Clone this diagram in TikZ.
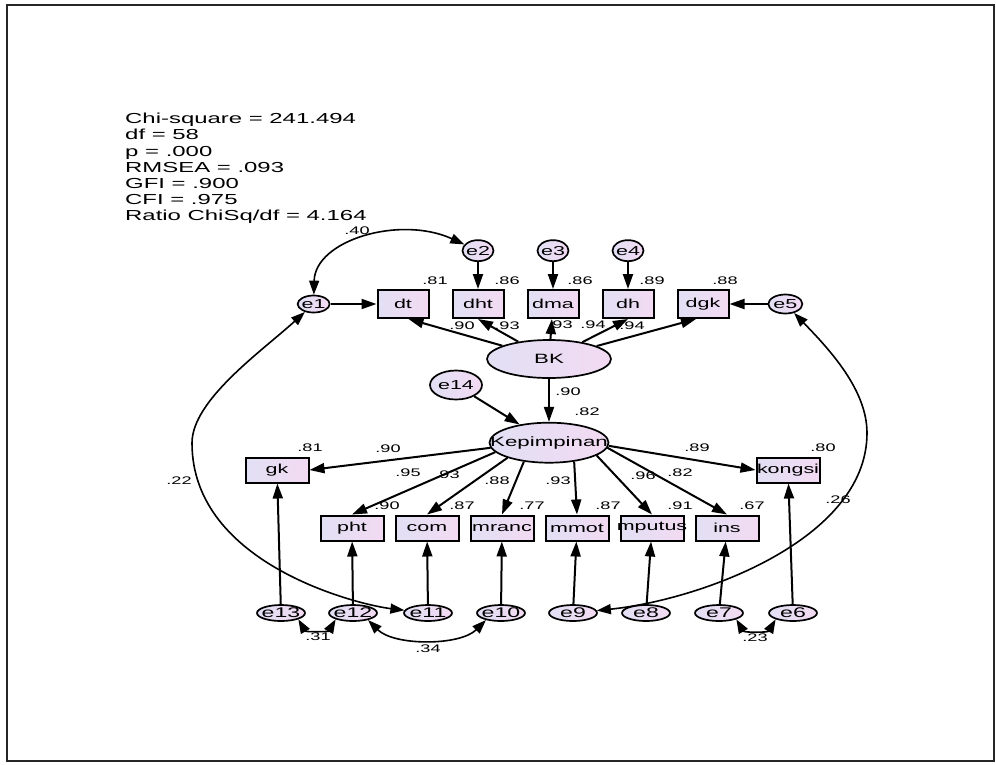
\documentclass[tikz,border=0pt]{standalone}
\usepackage{fontspec}
\setmainfont{Liberation Sans}[FakeStretch=1.65]
\usepackage{xcolor}
\usepackage{tikz}
\usetikzlibrary{
    shapes,
    arrows.meta,
    positioning
}
\definecolor{lavleft}{RGB}{226,224,244}
\definecolor{lavright}{RGB}{242,218,242}
\newcommand{\tightname}[1]{\makebox[0pt]{#1}}
\tikzset{obs/.style={
    draw,
    line width=2pt,
    left color=lavleft,
    right color=lavright,
    minimum height=25pt,
    minimum width=63pt,
    inner sep=0pt,
    font=\fontsize{13}{15}\selectfont,
}}
\tikzset{topobs/.style={
    obs,
    minimum height=28pt,
    minimum width=51pt,
}}
\tikzset{latent/.style={
    ellipse,
    draw,
    line width=1.7pt,
    left color=lavleft,
    right color=lavright,
    inner sep=0pt,
    font=\fontsize{13.5}{15}\selectfont,
}}
\tikzset{err/.style={
    latent,
    font=\fontsize{13}{15}\selectfont,
}}
\tikzset{berr/.style={
    err,
    minimum width=48pt,
    minimum height=16pt,
    font=\fontsize{14}{16}\selectfont,
}}
\tikzset{coef/.style={
    inner sep=0pt,
    font=\fontsize{11}{12}\selectfont,
}}
\tikzset{stats/.style={
    inner sep=0pt,
    align=left,
    font=\fontsize{14.5}{16.2}\selectfont,
}}
\tikzset{path/.style={
    ->,>={Triangle[length=15pt,width=10pt]},
    line width=2pt,
}}
\tikzset{cov/.style={
    <->,>={Triangle[length=14pt,width=10pt]},
    line width=1.6pt,
}}
\tikzset{frame/.style={
    draw=black!85,
    line width=2pt,
}}

\begin{document}
\begin{tikzpicture}[x=1pt, y=-1pt]
    \useasboundingbox (0,0) rectangle (996,764);
    \draw[frame] (7,5) rectangle (994,761);

    % fit indices
    \node[stats, anchor=north west] (fit) at (125,113) {Chi-square = 241.494\\df = 58\\p = .000\\RMSEA = .093\\GFI = .900\\CFI = .975\\Ratio ChiSq/df = 4.164};

    % latent variables
    \node[latent, minimum width=124pt, minimum height=38pt] (BK) at (549,359) {\tightname{BK}};
    \node[latent, minimum width=119pt, minimum height=40pt, below=43pt of BK] (Kep) {\tightname{Kepimpinan}};
    \node[err, minimum width=52pt, minimum height=29pt] (e14) at (456,385) {\tightname{e14}};

    % BK indicators
    \node[topobs] (dt) at (403,304) {dt};
    \node[topobs, right=22pt of dt] (dht) {dht};
    \node[topobs, right=22pt of dht] (dma) {dma};
    \node[topobs, right=22pt of dma] (dh) {dh};
    \node[topobs, right=22pt of dh] (dgk) {dgk};

    \node[err, minimum width=32pt, minimum height=17pt, left=46pt of dt] (e1) {\tightname{e1}};
    \node[err, minimum width=31pt, minimum height=21pt, above=27pt of dht] (e2) {\tightname{e2}};
    \node[err, minimum width=31pt, minimum height=21pt, above=27pt of dma] (e3) {\tightname{e3}};
    \node[err, minimum width=31pt, minimum height=21pt, above=27pt of dh] (e4) {\tightname{e4}};
    \node[err, minimum width=34pt, minimum height=19pt, right=38pt of dgk] (e5) {\tightname{e5}};

    % Kepimpinan indicators
    \node[obs] (gk) at (277,470) {gk};
    \node[obs] (kongsi) at (788,470) {\tightname{kongsi}};
    \node[obs] (pht) at (352,528) {pht};
    \node[obs, right=10pt of pht] (com) {com};
    \node[obs, right=10pt of com] (mranc) {\tightname{mranc}};
    \node[obs, right=10pt of mranc] (mmot) {mmot};
    \node[obs, right=10pt of mmot] (mputus) {\tightname{mputus}};
    \node[obs, right=10pt of mputus] (ins) {ins};

    \node[berr] (e13) at (281,613) {\tightname{e13}};
    \node[berr] (e12) at (353,613) {\tightname{e12}};
    \node[berr] (e11) at (428,613) {\tightname{e11}};
    \node[berr] (e10) at (501,613) {\tightname{e10}};
    \node[berr] (e9) at (573,613) {\tightname{e9}};
    \node[berr] (e8) at (646,613) {\tightname{e8}};
    \node[berr] (e7) at (719,613) {\tightname{e7}};
    \node[berr] (e6) at (793,613) {\tightname{e6}};

    % regression paths
    \draw[path] (e1) -- (dt);
    \draw[path] (e2) -- (dht);
    \draw[path] (e3) -- (dma);
    \draw[path] (e4) -- (dh);
    \draw[path] (e5) -- (dgk);
    \draw[path] (BK) -- (dt.-70);
    \draw[path] (BK) -- (dht.south);
    \draw[path] (BK) -- (dma);
    \draw[path] (BK) -- (dh.south);
    \draw[path] (BK) -- (dgk.-115);
    \draw[path] (BK) -- (Kep);
    \draw[path] (e14) -- (Kep);
    \draw[path] (Kep.-175) -- (gk.east);
    \draw[path] (Kep.-170) -- (pht.north);
    \draw[path] (Kep.-160) -- (com.north);
    \draw[path] (Kep.-143) -- (mranc.north);
    \draw[path] (Kep.-37) -- (mmot.north);
    \draw[path] (Kep.-15) -- (mputus.north);
    \draw[path] (Kep.-5) -- (ins.north);
    \draw[path] (Kep.-3) -- (kongsi.west);
    \draw[path] (e13) -- (gk);
    \draw[path] (e12) -- (pht);
    \draw[path] (e11) -- (com);
    \draw[path] (e10) -- (mranc);
    \draw[path] (e9) -- (mmot);
    \draw[path] (e8) -- (mputus);
    \draw[path] (e7) -- (ins);
    \draw[path] (e6) -- (kongsi);

    % covariances
    \coordinate (leftbend) at (192,443);
    \coordinate (rightbend) at (867,433);
    \draw[cov] (e1) .. controls (315,240) and (400,215) .. (e2);
    \draw[cov] (e1) .. controls (262,351) and (192,400) .. (leftbend) .. controls (192,565) and (360,605) .. (e11);
    \draw[cov] (e5) .. controls (830,350) and (867,390) .. (rightbend) .. controls (867,540) and (700,600) .. (e9);
    \draw[cov] (e13.-20) to[out=-60,in=-120] (e12.-160);
    \draw[cov] (e12.-25) to[out=-45,in=-135,looseness=0.8] (e10.-155);
    \draw[cov] (e7.-20) to[out=-60,in=-120] (e6.-160);

    % estimates
    \node[coef] (c-e1e2) at (357,231) {.40};
    \node[coef] (r-dt) at (435,281) {.81};
    \node[coef] (r-dht) at (507,281) {.86};
    \node[coef] (r-dma) at (580,281) {.86};
    \node[coef] (r-dh) at (652,281) {.89};
    \node[coef] (r-dgk) at (725,281) {.88};
    \node[coef] (l-dt) at (462,326) {.90};
    \node[coef] (l-dht) at (507,326) {.93};
    \node[coef] (l-dma) at (560,325) {.93};
    \node[coef] (l-dh) at (593,325) {.94};
    \node[coef] (l-dgk) at (632,326) {.94};
    \node[coef] (l-kep) at (568,392) {.90};
    \node[coef] (r-kep) at (587,412) {.82};
    \node[coef] (r-gk) at (310,448) {.81};
    \node[coef] (l-gk) at (388,449) {.90};
    \node[coef] (l-pht) at (408,473) {.95};
    \node[coef] (l-com) at (447,475) {.93};
    \node[coef] (l-mranc) at (497,481) {.88};
    \node[coef] (l-mmot) at (558,481) {.93};
    \node[coef] (l-mputus) at (643,476) {.96};
    \node[coef] (l-ins) at (680,473) {.82};
    \node[coef] (l-kongsi) at (697,448) {.89};
    \node[coef] (r-kongsi) at (823,448) {.80};
    \node[coef] (r-pht) at (387,506) {.90};
    \node[coef] (r-com) at (462,506) {.87};
    \node[coef] (r-mranc) at (532,506) {.77};
    \node[coef] (r-mmot) at (608,506) {.87};
    \node[coef] (r-mputus) at (680,506) {.91};
    \node[coef] (r-ins) at (752,506) {.67};
    \node[coef] (c-e1e11) at (179,481) {.22};
    \node[coef] (c-e5e9) at (838,500) {.26};
    \node[coef] (c-e13e12) at (318,637) {.31};
    \node[coef] (c-e12e10) at (428,649) {.34};
    \node[coef] (c-e7e6) at (755,638) {.23};
\end{tikzpicture}
\end{document}
